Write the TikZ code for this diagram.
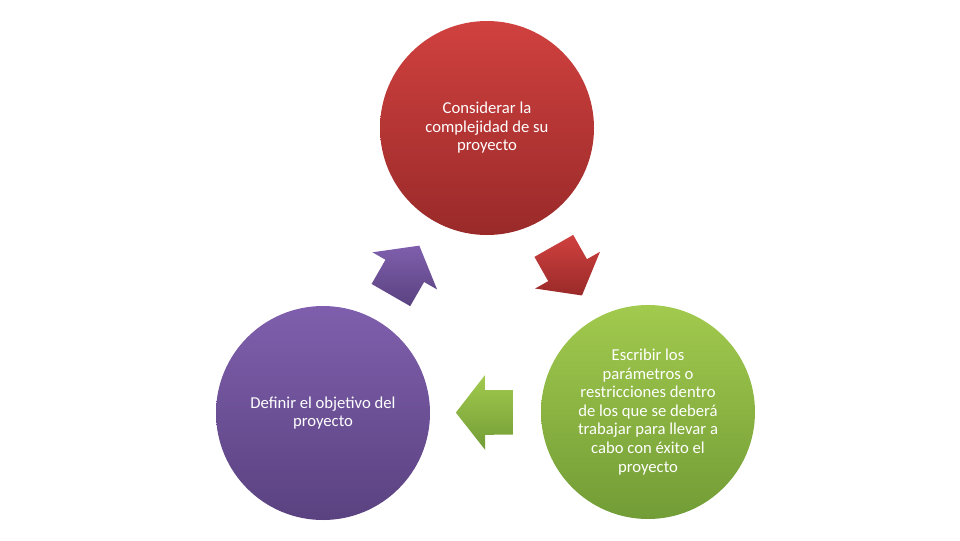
\documentclass[tikz,border=0pt]{standalone}
\usepackage{fontspec}
\setmainfont{Carlito}
\usetikzlibrary{positioning,shapes.arrows}
\definecolor{redtop}{HTML}{D0413F}
\definecolor{redbot}{HTML}{992A29}
\definecolor{purtop}{HTML}{7F5FAD}
\definecolor{purbot}{HTML}{5A4280}
\definecolor{grntop}{HTML}{A2CA4E}
\definecolor{grnbot}{HTML}{729C36}

\begin{document}
\begin{tikzpicture}[x=0.75pt,y=-0.75pt,
    stage/.style={circle,minimum size=160.5pt,inner sep=0pt,align=center,
      text=white,font=\fontsize{12.5}{13.9}\selectfont},
    turn/.style={single arrow,draw=none,minimum height=42.75pt,inner xsep=0pt,
      inner ysep=16.5pt,single arrow head extend=11.25pt,
      single arrow tip angle=104,sloped,allow upside down,pos=0.25,anchor=tail}]
  \useasboundingbox (0,0) rectangle (960,540);

  \node[stage,top color=redtop,bottom color=redbot] (cons) at (487,128)
    {Considerar la\\complejidad de su\\proyecto};
  \node[stage,top color=purtop,bottom color=purbot] (def) at (323,413)
    {Definir el objetivo del\\proyecto};
  \node[stage,top color=grntop,bottom color=grnbot] (esc) at (648,412)
    {Escribir los\\parámetros o\\restricciones dentro\\de los que se deberá\\trabajar para llevar a\\cabo con éxito el\\proyecto};

  \begin{scope}
    \path (def) -- node[turn,top color=purtop,bottom color=purbot] (up) {} (cons);
    \path (cons) -- node[turn,top color=redtop,bottom color=redbot] (down) {} (esc);
    \path (esc) -- node[turn,top color=grntop,bottom color=grnbot] (back) {} (def);
  \end{scope}
\end{tikzpicture}
\end{document}
